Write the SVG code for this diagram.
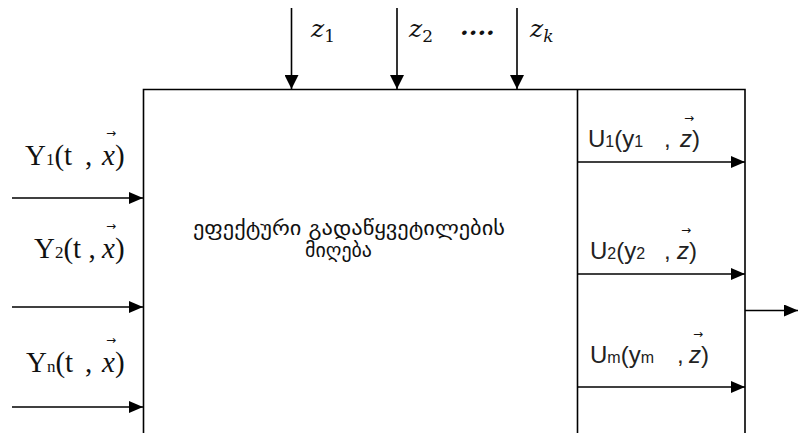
<svg xmlns="http://www.w3.org/2000/svg" width="799" height="433" viewBox="0 0 799 433">
  <style>
    .ln { stroke: #000; stroke-width: 1.6; fill: none; }
    .arr { stroke: #000; stroke-width: 1.6; fill: none; marker-end: url(#head); }
    .ylab { font-family: "Liberation Serif", "DejaVu Serif", serif; font-size: 29px; fill: #111; }
    .ulab { font-family: "Liberation Sans", "DejaVu Sans", sans-serif; font-size: 24px; fill: #222; }
    .it { font-style: italic; }
    .zlab { font-family: "DejaVu Serif", "Liberation Serif", serif; font-style: italic; font-size: 25px; fill: #111; }
    .vec { font-family: "DejaVu Sans", sans-serif; font-size: 12px; fill: #111; }
    .geo { font-family: "DejaVu Sans", "Noto Sans", sans-serif; font-size: 20px; fill: #111; }
  </style>
  <defs>
    <marker id="head" markerWidth="14" markerHeight="12" refX="14" refY="6" orient="auto" markerUnits="userSpaceOnUse" viewBox="0 0 14 12">
      <path d="M0,0 L14,6 L0,12 Z" fill="#000"/>
    </marker>
    <marker id="headV" markerWidth="14" markerHeight="14" refX="14" refY="7" orient="auto" markerUnits="userSpaceOnUse" viewBox="0 0 14 14">
      <path d="M0,0 L14,7 L0,14 Z" fill="#000"/>
    </marker>
  </defs>

  <!-- decision block -->
  <g id="block">
    <path class="ln" d="M143.5,433 V89.5 H745 V433"/>
    <path class="ln" d="M577.5,89.5 V433"/>
    <text class="geo" x="193" y="235" textLength="312" lengthAdjust="spacingAndGlyphs">ეფექტური  გადაწყვეტილების</text>
    <text class="geo" x="305" y="257" textLength="67" lengthAdjust="spacingAndGlyphs">მიღება</text>
  </g>

  <!-- connectors -->
  <g id="connectors">
    <path class="ln" d="M291.5,8 V89" marker-end="url(#headV)"/>
    <path class="ln" d="M397,8 V89" marker-end="url(#headV)"/>
    <path class="ln" d="M517,8 V89" marker-end="url(#headV)"/>
    <path class="arr" d="M12,198 H143"/>
    <path class="arr" d="M12,307 H143"/>
    <path class="arr" d="M12,407 H143"/>
    <path class="arr" d="M578,162 H745"/>
    <path class="arr" d="M578,274 H745"/>
    <path class="arr" d="M578,387 H745"/>
    <path class="arr" d="M745,310.5 H798"/>
  </g>

  <!-- disturbance labels -->
  <g id="z-labels">
    <text class="zlab" x="311" y="37">z<tspan font-size="17" font-style="normal" dy="5">1</tspan></text>
    <text class="zlab" x="409" y="37">z<tspan font-size="17" font-style="normal" dy="5">2</tspan></text>
    <text class="zlab" x="460" y="35" font-style="normal" font-size="17" font-weight="bold">....</text>
    <text class="zlab" x="530" y="37">z<tspan font-size="17" dy="5">k</tspan></text>
  </g>

  <!-- inputs -->
  <g id="inputs">
    <text class="ylab" x="25" y="165">Y<tspan font-size="17">1</tspan>(t <tspan x="85">,</tspan><tspan class="it" x="102">x</tspan>)</text>
    <text class="vec" x="106" y="137">→</text>
    <text class="ylab" x="34" y="258">Y<tspan font-size="17">2</tspan>(t ,<tspan class="it" x="102">x</tspan>)</text>
    <text class="vec" x="106" y="230">→</text>
    <text class="ylab" x="26" y="372">Y<tspan font-size="17">n</tspan>(t <tspan x="85">,</tspan><tspan class="it" x="102">x</tspan>)</text>
    <text class="vec" x="106" y="344">→</text>
  </g>

  <!-- outputs -->
  <g id="outputs">
    <text class="ulab" x="588" y="147">U<tspan font-size="16">1</tspan>(y<tspan font-size="16">1</tspan><tspan x="664">,</tspan><tspan class="it" x="680">z</tspan>)</text>
    <text class="vec" x="684" y="122">→</text>
    <text class="ulab" x="590" y="259">U<tspan font-size="16">2</tspan>(y<tspan font-size="16">2</tspan><tspan x="664">,</tspan><tspan class="it" x="677">z</tspan>)</text>
    <text class="vec" x="681" y="234">→</text>
    <text class="ulab" x="590" y="363">U<tspan font-size="16">m</tspan>(y<tspan font-size="16">m</tspan><tspan x="677">,</tspan><tspan class="it" x="689">z</tspan>)</text>
    <text class="vec" x="693" y="338">→</text>
  </g>
</svg>
